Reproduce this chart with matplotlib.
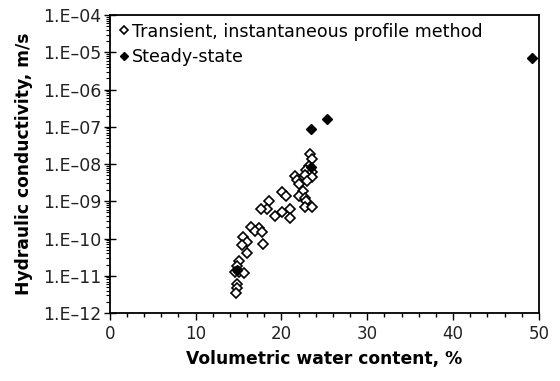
import numpy as np
import matplotlib
matplotlib.use("Agg")
from matplotlib import pyplot as plt
from matplotlib.ticker import FixedLocator, FuncFormatter, MultipleLocator

# transient, instantaneous profile method
theta_tr = [23.3, 23.5, 23.2, 22.9, 23.5, 22.8, 23.5, 21.6, 21.8, 22.0,
            23.0, 22.5, 22.0, 22.8, 22.9, 22.7, 23.5, 20.1, 20.5, 18.6,
            18.3, 17.6, 20.1, 21.0, 19.2, 21.0, 16.5, 17.4, 16.9, 17.7,
            17.8, 15.5, 16.0, 15.4, 16.0, 15.0, 14.8, 14.6, 15.1, 15.6,
            14.8, 14.8, 14.7]
logk_tr = [-7.73, -7.87, -8.05, -8.16, -8.21, -8.30, -8.34, -8.32, -8.43, -8.54,
           -8.45, -8.73, -8.86, -8.91, -8.99, -9.15, -9.15, -8.75, -8.86, -8.99,
           -9.20, -9.22, -9.29, -9.20, -9.40, -9.45, -9.68, -9.73, -9.79, -9.83,
           -10.15, -9.95, -10.09, -10.18, -10.38, -10.60, -10.74, -10.90, -10.90, -10.92,
           -11.22, -11.33, -11.47]

# steady-state
theta_ss = [49.2, 25.3, 23.4, 23.4, 14.8]
logk_ss = [-5.16, -6.80, -7.07, -8.09, -10.85]

k_tr = 10.0 ** np.array(logk_tr)
k_ss = 10.0 ** np.array(logk_ss)

plt.rcParams['font.family'] = 'DejaVu Sans'

fig = plt.figure(figsize=(5.6, 3.81), dpi=100)
ax = fig.add_axes([0.196, 0.1785, 0.7665, 0.782])

ax.plot(theta_tr, k_tr, 'D', ms=4.8, mfc='white', mec='black', mew=1.2,
        ls='none', label='Transient, instantaneous profile method')
ax.plot(theta_ss, k_ss, 'D', ms=5.0, mfc='black', mec='black',
        ls='none', label='Steady-state')

ax.set_yscale('log')
ax.set_xlim(0, 50)
ax.set_ylim(1e-12, 1e-4)

ax.xaxis.set_major_locator(MultipleLocator(10))
ax.xaxis.set_minor_locator(MultipleLocator(2))
ax.yaxis.set_major_locator(FixedLocator([10.0 ** e for e in range(-12, -3)]))
minors = [m * 10.0 ** e for e in range(-12, -4) for m in range(2, 10)]
ax.yaxis.set_minor_locator(FixedLocator(minors))
ax.yaxis.set_major_formatter(FuncFormatter(
    lambda v, p: '1.E\u2013%02d' % round(-np.log10(v))))

ax.tick_params(axis='x', which='major', direction='out', length=5, width=1,
               labelsize=12, pad=4)
ax.tick_params(axis='x', which='minor', direction='out', length=3, width=1)
ax.tick_params(axis='y', which='major', direction='inout', length=8, width=1,
               labelsize=12.5, pad=2)
ax.tick_params(axis='y', which='minor', direction='out', length=3, width=0.8)
for lab in ax.get_xticklabels() + ax.get_yticklabels():
    lab.set_color('#222222')

for s in ax.spines.values():
    s.set_linewidth(1.3)

ax.set_xlabel('Volumetric water content, %', fontsize=12.3, fontweight='bold',
              labelpad=5)
ax.set_ylabel('Hydraulic conductivity, m/s', fontsize=12.3, fontweight='bold',
              labelpad=7)

ax.legend(loc='upper left', frameon=False, fontsize=12.6, handlelength=0.5,
          handletextpad=0.2, borderaxespad=0.3, labelspacing=0.45,
          markerscale=0.8, bbox_to_anchor=(-0.006, 1.016))

fig.savefig('out.png', dpi=100)
